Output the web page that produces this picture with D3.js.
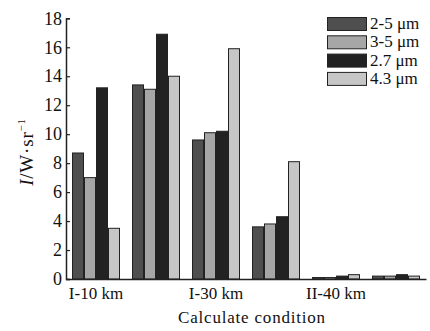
<!DOCTYPE html>
<html>
<head>
<meta charset="utf-8">
<script src="https://cdn.jsdelivr.net/npm/d3@7/dist/d3.min.js"></script>
<style>
  body { margin: 0; background: #fff; }
  svg { display: block; font-family: 'Liberation Serif', 'DejaVu Serif', serif; }
</style>
</head>
<body>
<div id="chart"></div>
<script>
// categories (only every other one is labelled on the axis)
const categories = ['I-10 km', 'I-20 km', 'I-30 km', 'II-20 km', 'II-40 km', 'II-60 km'];
const tickLabels = ['I-10 km', '', 'I-30 km', '', 'II-40 km', ''];
const seriesNames = ['2-5 \u03bcm', '3-5 \u03bcm', '2.7 \u03bcm', '4.3 \u03bcm'];
const seriesColors = ['#4f4f4f', '#a6a6a6', '#222222', '#c6c6c6'];

// intensity values, one array per band
const band25 = [8.7, 13.4, 9.6, 3.6, 0.1, 0.2];
const band35 = [7.0, 13.1, 10.1, 3.8, 0.1, 0.2];
const band27 = [13.2, 16.9, 10.2, 4.3, 0.2, 0.3];
const band43 = [3.5, 14.0, 15.9, 8.1, 0.3, 0.2];
const yTicks = [0, 2, 4, 6, 8, 10, 12, 14, 16, 18];

const series = [band25, band35, band27, band43];

const W = 430, H = 331;
const margin = { top: 18, right: 4, bottom: 52, left: 66 };

const svg = d3.select('#chart')
    .append('svg')
    .attr('width', W)
    .attr('height', H);

// x: groups, then bars inside each group
const x = d3.scaleBand()
    .domain(categories)
    .range([margin.left, W - margin.right])
    .paddingInner(0.2)
    .paddingOuter(0.1);

const xSub = d3.scaleBand()
    .domain(d3.range(series.length))
    .range([0, x.bandwidth()]);

const y = d3.scaleLinear()
    .domain([0, 18])
    .range([H - margin.bottom, margin.top + 0.3]);

// bars
const rows = [];
categories.forEach((c, i) => {
    series.forEach((s, j) => rows.push({ cat: c, k: j, v: s[i] }));
});

svg.append('g')
    .selectAll('rect')
    .data(rows)
    .enter()
    .append('rect')
    .attr('x', d => x(d.cat) + xSub(d.k) + 0.5)
    .attr('y', d => y(d.v))
    .attr('width', xSub.bandwidth() - 1)
    .attr('height', d => y(0) - y(d.v))
    .attr('fill', d => seriesColors[d.k])
    .attr('stroke', '#222')
    .attr('stroke-width', 1);

// y axis (ticks pointing inward)
const yAxis = svg.append('g')
    .attr('transform', `translate(${margin.left},0)`)
    .call(d3.axisRight(y).tickValues(yTicks).tickSize(4).tickFormat(d3.format('d')))
    .attr('font-family', null)
    .attr('font-size', null);
yAxis.select('.domain').attr('stroke', '#222').attr('stroke-width', 1.5);
yAxis.selectAll('.tick line').attr('stroke', '#222').attr('stroke-width', 1.2);
yAxis.selectAll('.tick text')
    .attr('x', -4)
    .attr('text-anchor', 'end')
    .attr('font-size', 18)
    .attr('fill', '#111');

// x axis
const xAxis = svg.append('g')
    .attr('transform', `translate(0,${y(0)})`)
    .call(d3.axisBottom(x).tickSize(0).tickSizeOuter(0)
        .tickFormat((d, i) => tickLabels[i]))
    .attr('font-family', null)
    .attr('font-size', null);
xAxis.select('.domain').attr('stroke', '#222').attr('stroke-width', 1.5);
xAxis.selectAll('.tick text')
    .attr('y', 8)
    .attr('font-size', 17)
    .attr('fill', '#111');

// axis titles
svg.append('text')
    .attr('x', 252)
    .attr('y', 323)
    .attr('text-anchor', 'middle')
    .attr('font-size', 17)
    .attr('letter-spacing', 0.8)
    .attr('fill', '#111')
    .text('Calculate condition');

const yTitle = svg.append('text')
    .attr('transform', 'translate(33,152) rotate(-90)')
    .attr('text-anchor', 'middle')
    .attr('font-size', 19)
    .attr('letter-spacing', 0.8)
    .attr('fill', '#111');
yTitle.append('tspan').attr('font-style', 'italic').text('I');
yTitle.append('tspan').text('/W\u00b7sr');
yTitle.append('tspan').attr('font-size', 11).attr('dy', -8).text('\u22121');

// legend
const legend = svg.append('g')
    .attr('transform', 'translate(327,17)');
const item = legend.selectAll('g')
    .data(seriesNames)
    .enter()
    .append('g')
    .attr('transform', (d, i) => `translate(0,${i * 18.3})`);
item.append('rect')
    .attr('x', 0.5)
    .attr('y', 0.5)
    .attr('width', 39)
    .attr('height', 13)
    .attr('fill', (d, i) => seriesColors[i])
    .attr('stroke', '#222');
item.append('text')
    .attr('x', 43)
    .attr('y', 12)
    .attr('font-size', 17)
    .attr('fill', '#111')
    .text(d => d);
</script>
</body>
</html>
